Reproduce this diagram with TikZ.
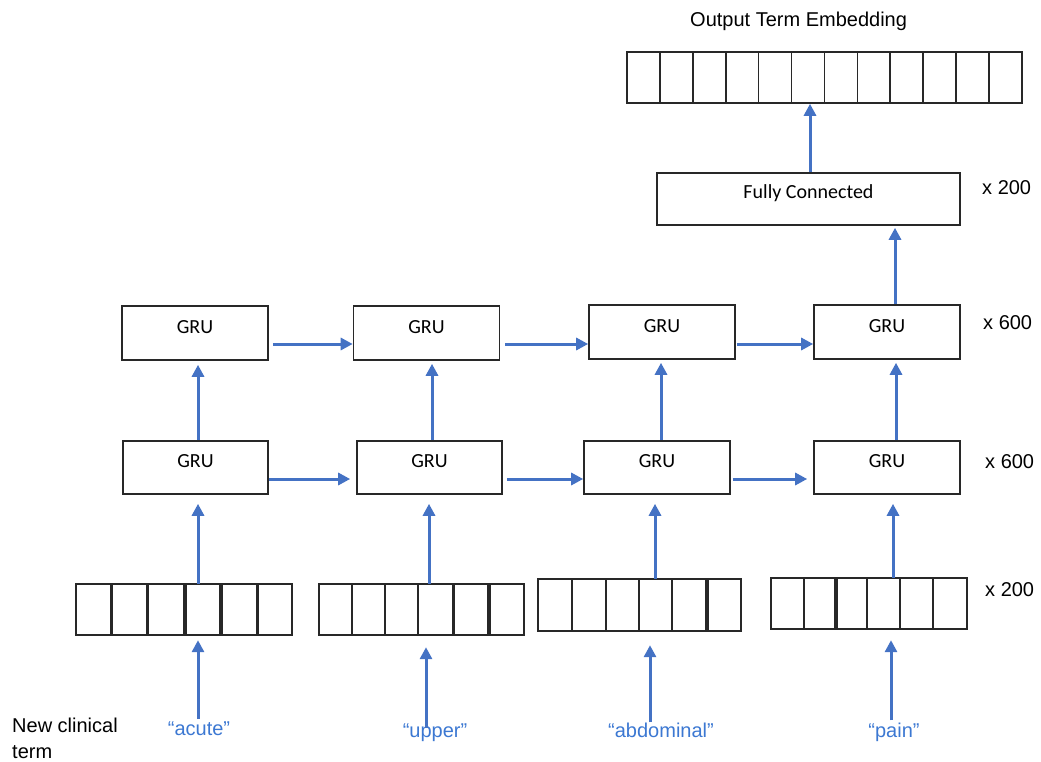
\documentclass[tikz,border=0pt]{standalone}
\usepackage{fontspec}
\setmainfont{Liberation Sans}
\newfontfamily\calibri{Carlito}
\usetikzlibrary{arrows.meta}
\definecolor{arrowblue}{RGB}{68,114,196}
\definecolor{wordblue}{RGB}{60,120,210}
\definecolor{boxline}{RGB}{40,40,40}

\begin{document}
\begin{tikzpicture}[x=1pt,y=-1pt,
  box/.style={draw=boxline,line width=1.6pt,minimum width=146pt,minimum height=54pt,
    inner sep=0pt,text height=0pt,text depth=0pt,font=\calibri\fontsize{20}{24}\selectfont},
  cell/.style={draw=boxline,line width=1.6pt},
  vec/.style={inner sep=0pt,draw=none},
  flow/.style={draw=arrowblue,line width=3pt,-{Triangle[length=12pt,width=12pt]}},
  lbl/.style={font=\fontsize{20}{24}\selectfont,inner sep=0pt,anchor=base west},
  word/.style={font=\fontsize{20}{24}\selectfont,text=wordblue,inner sep=0pt,anchor=base},
]
\useasboundingbox (0,0) rectangle (1041,762);

% output embedding vector (12 cells)
\node[lbl] (title) at (690,27) {Output Term Embedding};
\node[cell,minimum width=395pt,minimum height=51pt,inner sep=0pt] (emb) at (824.5,77.5) {};
\foreach \i in {1,...,11}
  \draw[cell] ({627+\i*32.9},52) -- ({627+\i*32.9},103);

% fully connected layer
\node[box,minimum width=303pt,minimum height=52pt] (fc) at (808.5,199) {Fully Connected};
\node[lbl] (m1) at (982,195) {x 200};

% upper GRU layer
\node[box] (t1) at (195,333) {GRU};
\node[box] (t2) at (426.5,333) {GRU};
\node[box] (t3) at (662,332) {GRU};
\node[box] (t4) at (887,332) {GRU};
\node[lbl] (m2) at (983,329) {x 600};

% lower GRU layer
\node[box,minimum width=145pt,minimum height=53pt] (b1) at (195.5,467.5) {GRU};
\node[box,minimum width=145pt,minimum height=53pt] (b2) at (429.5,467.5) {GRU};
\node[box,minimum width=146pt,minimum height=53pt] (b3) at (657,467.5) {GRU};
\node[box,minimum width=146pt,minimum height=53pt] (b4) at (887,467.5) {GRU};
\node[lbl] (m3) at (985,468) {x 600};

% input word vectors (6 cells each)
\node[vec,minimum width=216pt,minimum height=51pt] (v1) at (184,609.5) {};
\node[vec,minimum width=205pt,minimum height=51pt] (v2) at (421.5,609.5) {};
\node[vec,minimum width=203pt,minimum height=52pt] (v3) at (639.5,605) {};
\node[vec,minimum width=196pt,minimum height=51pt] (v4) at (869,603.5) {};
\foreach \a/\b in {76/111,112/147,148/184,186/220,222/257,258/292}
  \draw[cell] (\a,584) rectangle (\b,635);
\foreach \a/\b in {319/352,352/385,385/418,418/453,454/488,490/524}
  \draw[cell] (\a,584) rectangle (\b,635);
\foreach \a/\b in {538/572,572/606,606/639,639/672,672/706,708/741}
  \draw[cell] (\a,579) rectangle (\b,631);
\foreach \a/\b in {771/804,804/835,837/867,867/900,900/933,933/967}
  \draw[cell] (\a,578) rectangle (\b,629);
\node[lbl] (m4) at (985,596) {x 200};

% input words
\node[lbl] (nc1) at (12,732) {New clinical};
\node[lbl] (nc2) at (12,758) {term};
\node[word] (w1) at (199,735) {“acute”};
\node[word] (w2) at (435,737) {“upper”};
\node[word] (w3) at (661,737) {“abdominal”};
\node[word] (w4) at (894,737) {“pain”};

% column positions of the vertical connectors
\coordinate (ka1) at (198,0);
\coordinate (ka2) at (426,0);
\coordinate (ka3) at (650,0);
\coordinate (ka4) at (891,0);
\coordinate (kb1) at (198,0);
\coordinate (kb2) at (429,0);
\coordinate (kb3) at (655,0);
\coordinate (kb4) at (893,0);
\coordinate (kc1) at (198,0);
\coordinate (kc2) at (432,0);
\coordinate (kc3) at (661,0);
\coordinate (kc4) at (896,0);
\coordinate (kd) at (895,0);
\coordinate (ke) at (810,0);
% row positions of the horizontal connectors
\coordinate (r1) at (0,344);
\coordinate (r2) at (0,479);

% words -> vectors
\draw[flow,shorten <=2pt,shorten >=5pt] (w1.north -| ka1) -- (v1.south -| ka1);
\draw[flow,shorten <=-5pt,shorten >=12pt] (w2.north -| ka2) -- (v2.south -| ka2);
\draw[flow,shorten >=14pt] (w3.north -| ka3) -- (v3.south -| ka3);
\draw[flow,shorten <=2pt,shorten >=11pt] (w4.north -| ka4) -- (v4.south -| ka4);

% vectors -> lower GRUs
\draw[flow,shorten >=9pt] (v1.north -| kb1) -- (b1.south -| kb1);
\draw[flow,shorten >=9pt] (v2.north -| kb2) -- (b2.south -| kb2);
\draw[flow,shorten >=9pt] (v3.north -| kb3) -- (b3.south -| kb3);
\draw[flow,shorten >=9pt] (v4.north -| kb4) -- (b4.south -| kb4);

% lower GRUs -> upper GRUs
\draw[flow,shorten >=4pt] (b1.north -| kc1) -- (t1.south -| kc1);
\draw[flow,shorten >=3pt] (b2.north -| kc2) -- (t2.south -| kc2);
\draw[flow,shorten >=3pt] (b3.north -| kc3) -- (t3.south -| kc3);
\draw[flow,shorten >=3pt] (b4.north -| kc4) -- (t4.south -| kc4);

% recurrent connections
\draw[flow,shorten <=4pt] (t1.east |- r1) -- (t2.west |- r1);
\draw[flow,shorten <=5pt] (t2.east |- r1) -- (t3.west |- r1);
\draw[flow,shorten <=1pt] (t3.east |- r1) -- (t4.west |- r1);
\draw[flow,shorten >=6pt] (b1.east |- r2) -- (b2.west |- r2);
\draw[flow,shorten <=4pt] (b2.east |- r2) -- (b3.west |- r2);
\draw[flow,shorten <=2pt,shorten >=6pt] (b3.east |- r2) -- (b4.west |- r2);

% top of the network
\draw[flow,shorten >=2pt] (t4.north -| kd) -- (fc.south -| kd);
\draw[flow,shorten >=0pt] (fc.north -| ke) -- (emb.south -| ke);
\end{tikzpicture}
\end{document}
